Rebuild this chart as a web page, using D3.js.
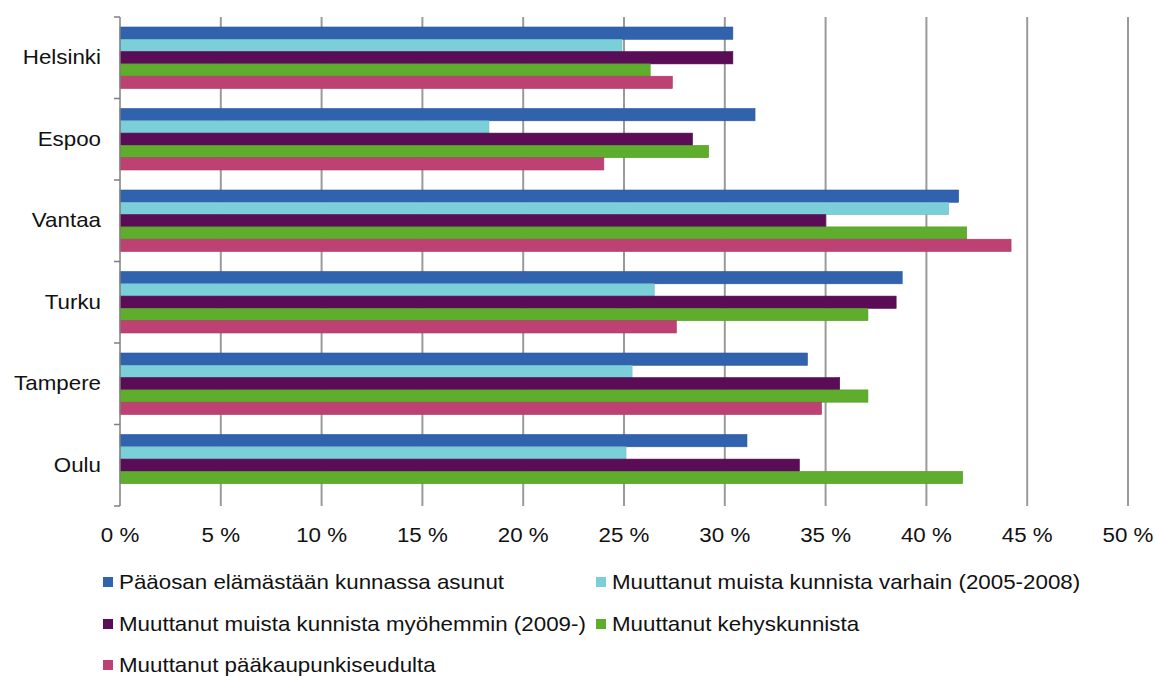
<!DOCTYPE html>
<html><head><meta charset="utf-8">
<script src="https://cdn.jsdelivr.net/npm/d3@7"></script>
<style>
html,body{margin:0;padding:0;background:#fff;}
svg{display:block;font-family:"Liberation Sans",Arial,sans-serif;}
</style></head>
<body><svg id="c" width="1155" height="677"></svg>
<script>
const categories = ["Helsinki","Espoo","Vantaa","Turku","Tampere","Oulu"];
const seriesNames = [
  "Pääosan elämästään kunnassa asunut",
  "Muuttanut muista kunnista varhain (2005-2008)",
  "Muuttanut muista kunnista myöhemmin (2009-)",
  "Muuttanut kehyskunnista",
  "Muuttanut pääkaupunkiseudulta"
];
const seriesColors = ["#3062AD","#7BCFD8","#5A0C56","#5EAD2D","#BE4173"];
const s1 = [30.4, 31.5, 41.6, 38.8, 34.1, 31.1];
const s2 = [24.9, 18.3, 41.1, 26.5, 25.4, 25.1];
const s3 = [30.4, 28.4, 35.0, 38.5, 35.7, 33.7];
const s4 = [26.3, 29.2, 42.0, 37.1, 37.1, 41.8];
const s5 = [27.4, 24.0, 44.2, 27.6, 34.8, null];
const seriesValues = [s1, s2, s3, s4, s5];
const xTicks = [0,5,10,15,20,25,30,35,40,45,50];

(function(){
const svg = d3.select("#c");
const pl = 120, pr = 1128, pt = 17, pb = 506;
const fs = 20.5, sx = 1.09;

const x = d3.scaleLinear().domain([0,50]).range([pl,pr]);
const y = d3.scaleBand().domain(categories).range([pt,pb]).padding(0);
const groupPad = 0.1227;
const yInner = d3.scaleBand().domain(d3.range(seriesNames.length))
  .range([y.bandwidth()*groupPad, y.bandwidth()*(1-groupPad)]);

// gridlines
svg.append("g").selectAll("line").data(xTicks.slice(1)).join("line")
  .attr("x1", d=>x(d)).attr("x2", d=>x(d))
  .attr("y1", pt).attr("y2", pb)
  .attr("stroke", "#9a9a9a").attr("stroke-width", 2);

// bars
const groups = svg.append("g").selectAll("g").data(categories).join("g")
  .attr("transform", c=>`translate(0,${y(c)})`);
groups.each(function(c, ci){
  const g = d3.select(this);
  seriesValues.forEach((vals, si)=>{
    const v = vals[ci];
    if (v == null) return;
    g.append("rect")
      .attr("x", x(0)).attr("y", yInner(si))
      .attr("width", x(v)-x(0)).attr("height", yInner.bandwidth())
      .attr("fill", seriesColors[si])
      .attr("stroke", d3.color(seriesColors[si]).darker(0.3))
      .attr("stroke-width", 0.6);
  });
});

// left axis line and ticks
svg.append("line").attr("x1", pl).attr("x2", pl).attr("y1", pt).attr("y2", pb)
  .attr("stroke", "#7f7f7f").attr("stroke-width", 1.5);
const bounds = categories.map(c=>y(c)).concat([pb]);
svg.append("g").selectAll("line").data(bounds).join("line")
  .attr("x1", pl-6).attr("x2", pl).attr("y1", d=>d).attr("y2", d=>d)
  .attr("stroke", "#7f7f7f").attr("stroke-width", 1.5);

// category labels
svg.append("g").selectAll("text").data(categories).join("text")
  .attr("transform", c=>`translate(101,${y(c)+y.bandwidth()/2}) scale(${sx},1)`)
  .attr("text-anchor","end").attr("dominant-baseline","central")
  .attr("font-size", fs).attr("fill","#111").text(c=>c);

// x tick labels
svg.append("g").selectAll("text").data(xTicks).join("text")
  .attr("transform", d=>`translate(${x(d)},535) scale(${sx},1)`)
  .attr("text-anchor","middle").attr("dominant-baseline","central")
  .attr("font-size", fs).attr("fill","#111").text(d=>d+" %");

// legend
const legendPos = [[103,582],[596,582],[103,624],[596,624],[103,665]];
const lg = svg.append("g").selectAll("g").data(seriesNames).join("g")
  .attr("transform",(d,i)=>`translate(${legendPos[i][0]},${legendPos[i][1]})`);
lg.append("rect").attr("x",0).attr("y",-5).attr("width",10).attr("height",10)
  .attr("fill",(d,i)=>seriesColors[i]);
lg.append("text").attr("transform",`translate(16,0) scale(${sx},1)`)
  .attr("dominant-baseline","central")
  .attr("font-size",fs).attr("fill","#111").text(d=>d);
})();
</script></body></html>
